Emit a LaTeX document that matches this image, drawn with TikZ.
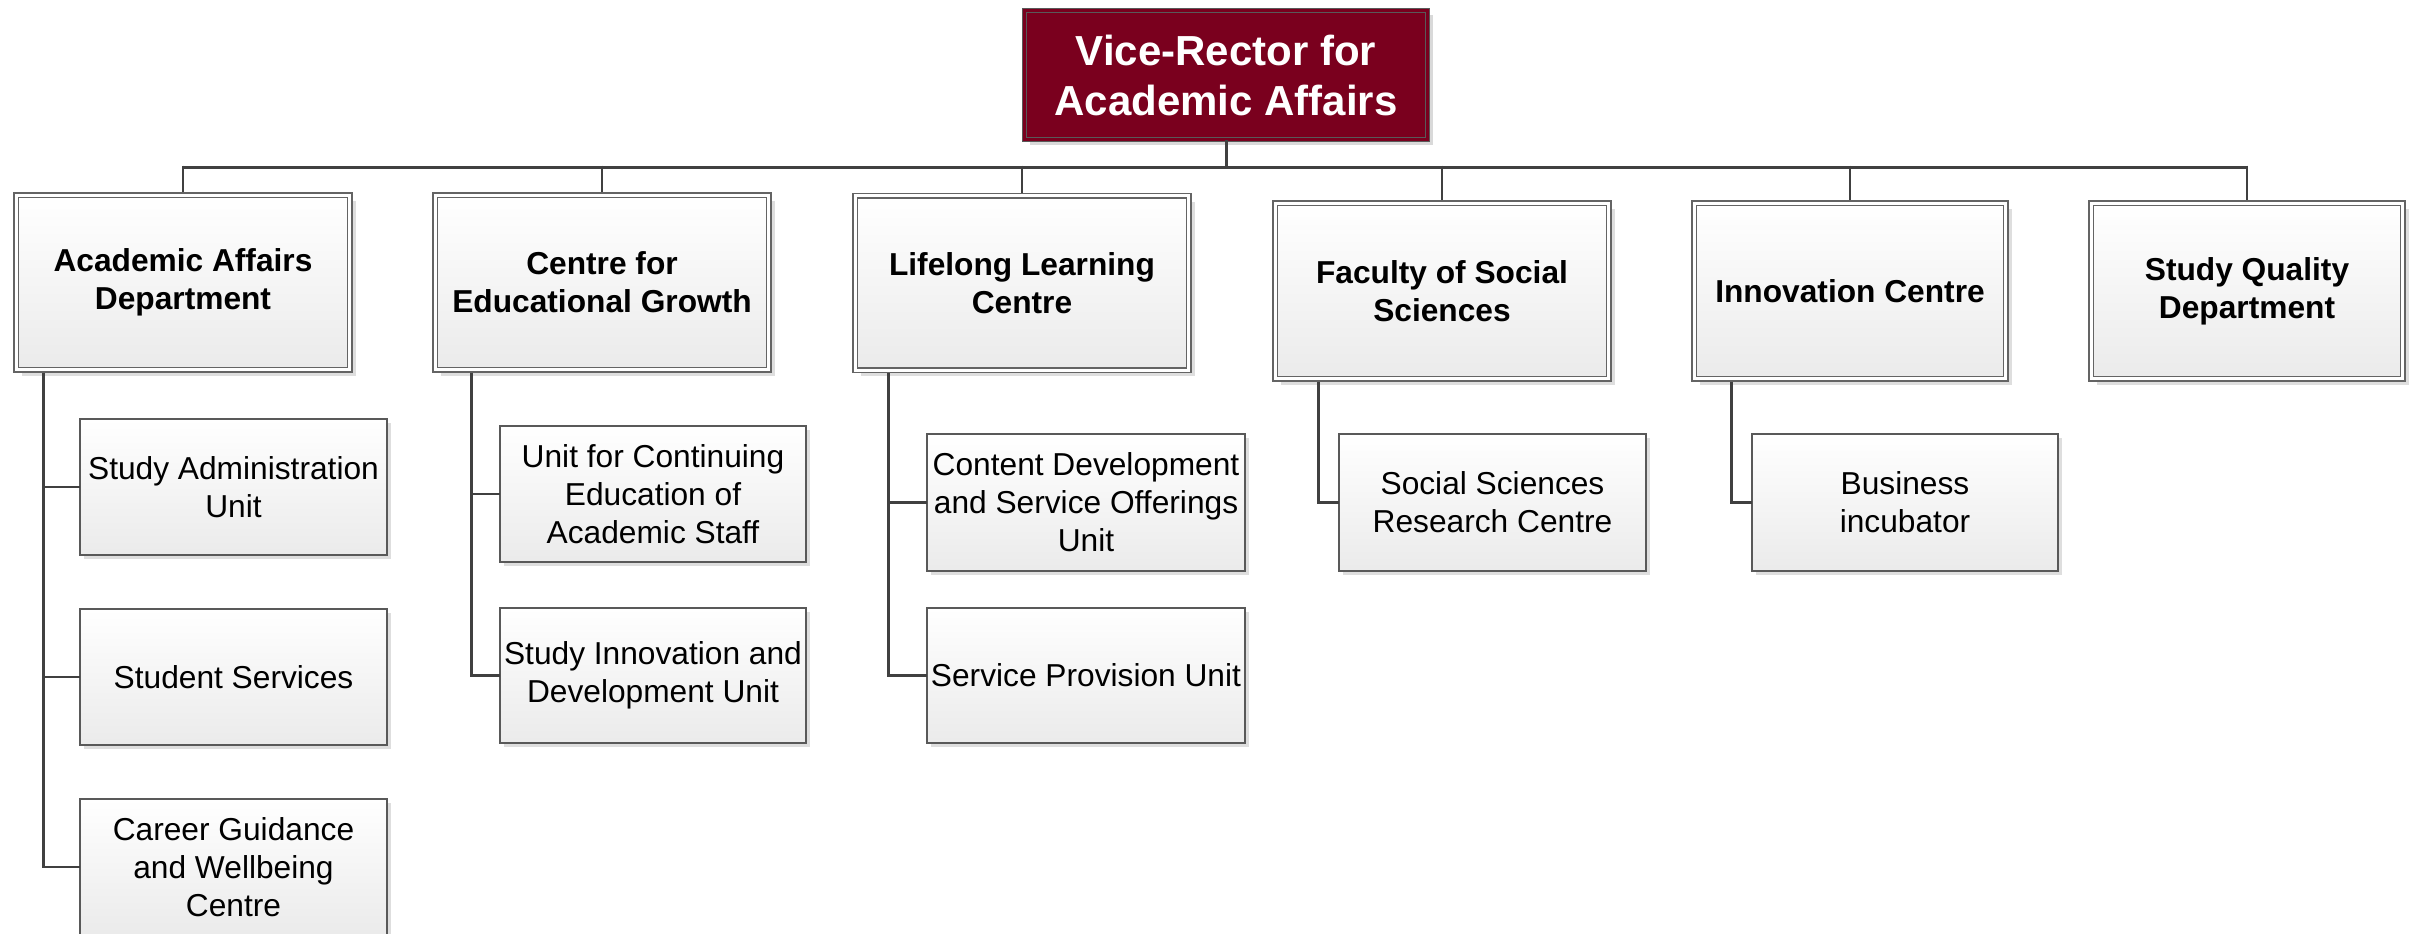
\documentclass[tikz,border=0pt]{standalone}
\usepackage{fontspec}
\setmainfont{Liberation Sans}
\usetikzlibrary{shadows,calc}
\definecolor{maroonbox}{RGB}{122,0,30}
\definecolor{boxline}{RGB}{100,100,100}
\definecolor{conn}{RGB}{64,64,64}
\tikzset{
  topbox/.style={draw=black!65, double=maroonbox, line width=1pt, double distance=3.5pt,
    fill=maroonbox, text=white, font=\fontsize{42}{50}\selectfont\bfseries,
    align=center, inner sep=0pt, outer sep=0pt,
    drop shadow={shadow xshift=5pt, shadow yshift=-5pt, fill=black!15, opacity=1}},
  deptbox/.style={draw=boxline, double=white, line width=1.3pt, double distance=3.4pt,
    top color=white, bottom color=black!8, text=black,
    font=\fontsize{31.7}{38}\selectfont\bfseries,
    align=center, inner sep=0pt, outer sep=0pt,
    drop shadow={shadow xshift=6pt, shadow yshift=-6pt, fill=black!13, opacity=1}},
  subbox/.style={draw=black!65, line width=1.4pt,
    top color=white, bottom color=black!8, text=black,
    font=\fontsize{31.7}{38}\selectfont,
    align=center, inner sep=0pt, outer sep=0pt,
    drop shadow={shadow xshift=4pt, shadow yshift=-4pt, fill=black!13, opacity=1}},
  busline/.style={draw=conn, line width=3pt},
  dropline/.style={draw=conn, line width=2pt},
  childline/.style={draw=conn, line width=2.6pt},
}
\begin{document}
\begin{tikzpicture}[x=1pt,y=-1pt]
\useasboundingbox (0,0) rectangle (2415,934);
\fill[white] (0,0) rectangle (2415,934);
% top
\node[topbox, minimum width=403pt, minimum height=129pt] (top) at (1226,75) {Vice-Rector for\\Academic Affairs};
% departments
\node[deptbox, minimum width=333.5pt, minimum height=174.5pt] (d1) at (183,282.5) {Academic Affairs\\Department};
\node[deptbox, minimum width=333.5pt, minimum height=174.5pt] (d2) at (602,282.5) {Centre for\\Educational Growth};
\node[deptbox, minimum width=333.5pt, minimum height=174.5pt] (d3) at (1022,283) {Lifelong Learning\\Centre};
\node[deptbox, minimum width=333.5pt, minimum height=175.5pt] (d4) at (1442,291) {Faculty of Social\\Sciences};
\node[deptbox, minimum width=311.5pt, minimum height=175.5pt] (d5) at (1850,291) {Innovation Centre};
\node[deptbox, minimum width=311.5pt, minimum height=175.5pt] (d6) at (2247,291) {Study Quality\\Department};
% sub units
\node[subbox, minimum width=307pt, minimum height=136pt] (s1) at (233.5,487) {Study Administration\\Unit};
\node[subbox, minimum width=307pt, minimum height=136pt] (s2) at (233.5,677) {Student Services};
\node[subbox, minimum width=307pt, minimum height=136pt] (s3) at (233.5,867) {Career Guidance\\and Wellbeing\\Centre};
\node[subbox, minimum width=306pt, minimum height=136pt] (s4) at (653,494) {Unit for Continuing\\Education of\\Academic Staff};
\node[subbox, minimum width=306pt, minimum height=135pt] (s5) at (653,675.5) {Study Innovation and\\Development Unit};
\node[subbox, minimum width=318pt, minimum height=137pt] (s6) at (1086,502.5) {Content Development\\and Service Offerings\\Unit};
\node[subbox, minimum width=318pt, minimum height=135pt] (s7) at (1086,675.5) {Service Provision Unit};
\node[subbox, minimum width=307pt, minimum height=137pt] (s8) at (1492.5,502.5) {Social Sciences\\Research Centre};
\node[subbox, minimum width=306pt, minimum height=137pt] (s9) at (1905,502.5) {Business\\incubator};
% bus
\coordinate (bus) at (1226,165.5);
\draw[busline] (top.south) -- (bus);
\draw[busline] ([yshift=-1.5pt]d1.north |- bus) -- ([yshift=-1.5pt]d6.north |- bus);
\foreach \d in {d1,d2,d3,d4,d5,d6}{
  \draw[dropline] (\d.north |- bus) -- ([yshift=3pt]\d.north);
}
% children
\draw[childline] ([xshift=27pt,yshift=-3pt]d1.south west) |- (s1.west);
\draw[childline] ([xshift=27pt,yshift=-3pt]d1.south west) |- (s2.west);
\draw[childline] ([xshift=27pt,yshift=-3pt]d1.south west) |- (s3.west);
\draw[childline] ([xshift=36pt,yshift=-3pt]d2.south west) |- (s4.west);
\draw[childline] ([xshift=36pt,yshift=-3pt]d2.south west) |- (s5.west);
\draw[childline] ([xshift=33pt,yshift=-3pt]d3.south west) |- (s6.west);
\draw[childline] ([xshift=33pt,yshift=-3pt]d3.south west) |- (s7.west);
\draw[childline] ([xshift=43pt,yshift=-3pt]d4.south west) |- (s8.west);
\draw[childline] ([xshift=37pt,yshift=-3pt]d5.south west) |- (s9.west);
\end{tikzpicture}
\end{document}
